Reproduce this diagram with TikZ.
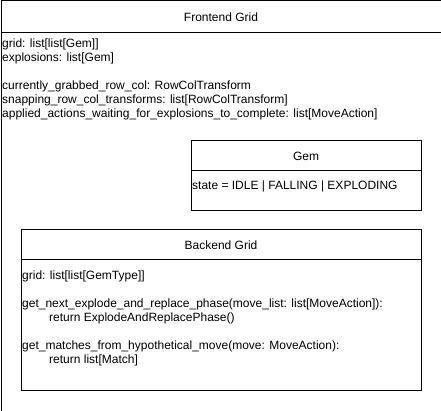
\documentclass[tikz,border=0pt]{standalone}
\usepackage{fontspec}
\setmainfont{Liberation Sans}
\usetikzlibrary{positioning}
\tikzset{
	umlbox/.style={draw, line width=1pt, anchor=north west, inner sep=0pt},
	umltitle/.style={umlbox, font=\fontsize{12pt}{14pt}\selectfont},
	members/.style={anchor=north west, align=left, inner sep=0pt,
			font=\fontsize{12pt}{14pt}\selectfont}
}
\newcommand{\tabin}{\hspace*{27pt}}

\begin{document}
\begin{tikzpicture}[x=1pt,y=-1pt]
	\useasboundingbox (0,0) rectangle (441,411);
	% outer class
	\node[umlbox, minimum width=440pt, minimum height=410pt] (frontend) at (0.5,0.5) {};
	\node[umltitle, minimum width=440pt, minimum height=32pt] (frontendtitle) at (frontend.north west) {Frontend Grid};
	\node[members] (frontendfields) at (2,38.7) {grid: list[list[Gem]]\\
			explosions: list[Gem]\\[14pt]
			currently\_grabbed\_row\_col: RowColTransform\\
			snapping\_row\_col\_transforms: list[RowColTransform]\\
			applied\_actions\_waiting\_for\_explosions\_to\_complete: list[MoveAction]};
	% gem
	\node[umlbox, minimum width=230pt, minimum height=70pt] (gem) at (190.5,140.5) {};
	\node[umltitle, minimum width=230pt, minimum height=30pt] (gemtitle) at (gem.north west) {Gem};
	\node[members] (gemfields) at (192,180.7) {state = IDLE | FALLING | EXPLODING};
	% backend
	\node[umlbox, minimum width=400pt, minimum height=160pt] (backend) at (20.5,229.5) {};
	\node[umltitle, minimum width=400pt, minimum height=30pt] (backendtitle) at (backend.north west) {Backend Grid};
	\node[members] (backendfields) at (22,270.7) {grid: list[list[GemType]]\\[14pt]
			get\_next\_explode\_and\_replace\_phase(move\_list: list[MoveAction]):\\
			\tabin return ExplodeAndReplacePhase()\\[14pt]
			get\_matches\_from\_hypothetical\_move(move: MoveAction):\\
			\tabin return list[Match]};
\end{tikzpicture}
\end{document}
